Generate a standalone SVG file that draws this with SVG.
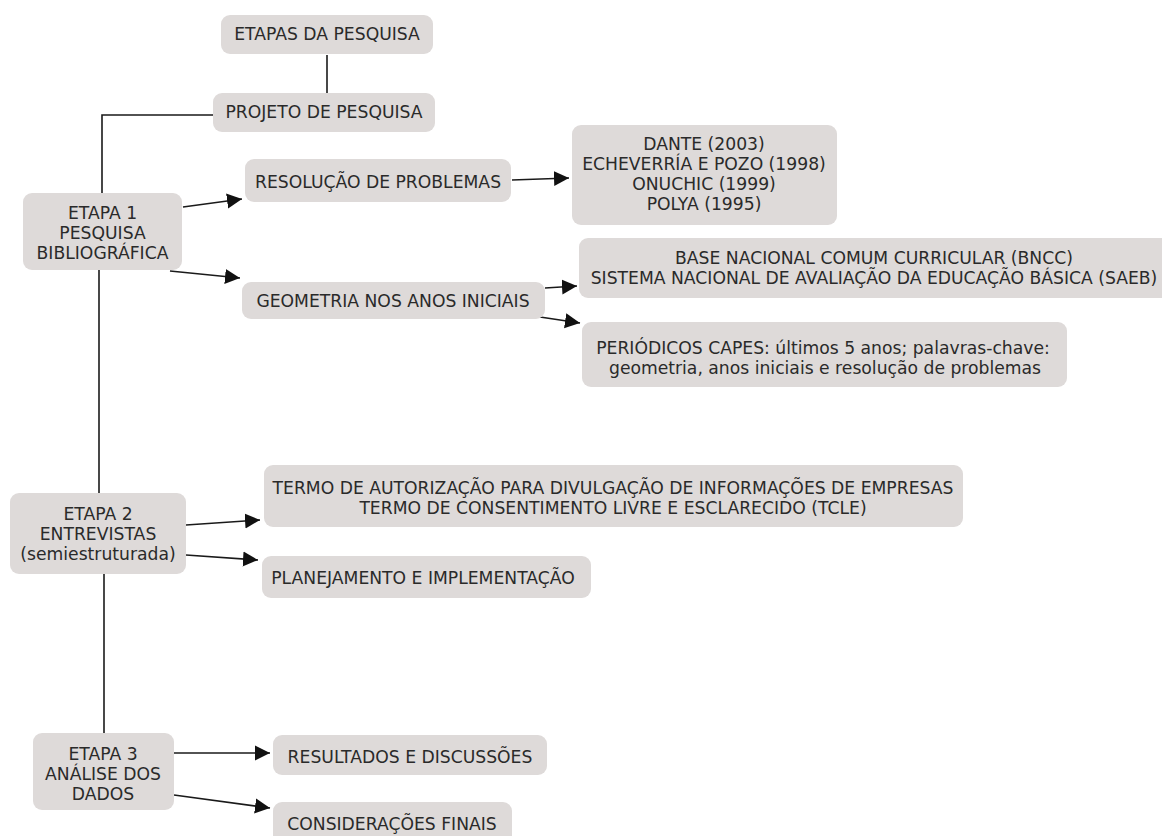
<svg xmlns="http://www.w3.org/2000/svg" width="1162" height="836" viewBox="0 0 1162 836">
<style>
.box{fill:#dedad9;}
.t{font-family:"DejaVu Sans",Verdana,sans-serif;font-size:17.2px;fill:#2a2a2a;text-anchor:middle;}
.ln{stroke:#1a1a1a;stroke-width:1.6;fill:none;}
</style>
<defs>
<marker id="ah" markerUnits="userSpaceOnUse" markerWidth="16" markerHeight="16" refX="15" refY="8" orient="auto">
<path d="M0,0.5 L15,8 L0,15.5 Z" fill="#111"/>
</marker>
</defs>
<rect width="1162" height="836" fill="#fff"/>
<g id="connectors">
<line class="ln" x1="327" y1="55" x2="327" y2="93"/>
<polyline class="ln" points="213,115 102,115 102,193"/>
<line class="ln" x1="99" y1="270" x2="99" y2="493"/>
<line class="ln" x1="104" y1="574" x2="104" y2="733"/>
<line class="ln" x1="183" y1="207" x2="242" y2="199" marker-end="url(#ah)"/>
<line class="ln" x1="170" y1="271" x2="240" y2="278" marker-end="url(#ah)"/>
<line class="ln" x1="512" y1="180" x2="569" y2="178" marker-end="url(#ah)"/>
<line class="ln" x1="545" y1="288" x2="577" y2="286" marker-end="url(#ah)"/>
<line class="ln" x1="540" y1="317" x2="580" y2="323" marker-end="url(#ah)"/>
<line class="ln" x1="186" y1="525" x2="260" y2="520" marker-end="url(#ah)"/>
<line class="ln" x1="186" y1="555" x2="258" y2="560" marker-end="url(#ah)"/>
<line class="ln" x1="174" y1="753" x2="270" y2="753" marker-end="url(#ah)"/>
<line class="ln" x1="174" y1="795" x2="270" y2="808" marker-end="url(#ah)"/>
</g>
<g id="etapas">
<rect class="box" x="221" y="15" width="212" height="39" rx="9"/>
<text class="t" x="327" y="39.5">ETAPAS DA PESQUISA</text>
</g>
<g id="projeto">
<rect class="box" x="213" y="93" width="222" height="39" rx="9"/>
<text class="t" x="324" y="117.5">PROJETO DE PESQUISA</text>
</g>
<g id="resolucao">
<rect class="box" x="245" y="159" width="266" height="43" rx="9"/>
<text class="t" x="378" y="187.5">RESOLUÇÃO DE PROBLEMAS</text>
</g>
<g id="etapa1">
<rect class="box" x="23" y="193" width="159" height="77" rx="9"/>
<text class="t" x="102.5" y="218.5">ETAPA 1</text>
<text class="t" x="102.5" y="238.5">PESQUISA</text>
<text class="t" x="102.5" y="258.5">BIBLIOGRÁFICA</text>
</g>
<g id="geometria">
<rect class="box" x="242" y="282" width="303" height="37" rx="9"/>
<text class="t" x="393" y="306.5">GEOMETRIA NOS ANOS INICIAIS</text>
</g>
<g id="autores">
<rect class="box" x="572" y="125" width="265" height="100" rx="9"/>
<text class="t" x="704" y="149.5">DANTE (2003)</text>
<text class="t" x="704" y="169.5">ECHEVERRÍA E POZO (1998)</text>
<text class="t" x="704" y="189.5">ONUCHIC (1999)</text>
<text class="t" x="704" y="209.5">POLYA (1995)</text>
</g>
<g id="bncc">
<rect class="box" x="579" y="238" width="600" height="60" rx="9"/>
<text class="t" x="874" y="263.5">BASE NACIONAL COMUM CURRICULAR (BNCC)</text>
<text class="t" x="874" y="283.5">SISTEMA NACIONAL DE AVALIAÇÃO DA EDUCAÇÃO BÁSICA (SAEB)</text>
</g>
<g id="periodicos">
<rect class="box" x="582" y="322" width="485" height="65" rx="9"/>
<text class="t" x="823" y="353.5">PERIÓDICOS CAPES: últimos 5 anos; palavras-chave:</text>
<text class="t" x="825" y="373.5">geometria, anos iniciais e resolução de problemas</text>
</g>
<g id="etapa2">
<rect class="box" x="10" y="493" width="176" height="81" rx="9"/>
<text class="t" x="98" y="519.5">ETAPA 2</text>
<text class="t" x="98" y="539.5">ENTREVISTAS</text>
<text class="t" x="98" y="559.5">(semiestruturada)</text>
</g>
<g id="termo">
<rect class="box" x="264" y="465" width="699" height="62" rx="9"/>
<text class="t" x="613" y="493.5">TERMO DE AUTORIZAÇÃO PARA DIVULGAÇÃO DE INFORMAÇÕES DE EMPRESAS</text>
<text class="t" x="613" y="513.5">TERMO DE CONSENTIMENTO LIVRE E ESCLARECIDO (TCLE)</text>
</g>
<g id="planejamento">
<rect class="box" x="262" y="556" width="329" height="42" rx="9"/>
<text class="t" x="423" y="583.5">PLANEJAMENTO E IMPLEMENTAÇÃO</text>
</g>
<g id="etapa3">
<rect class="box" x="33" y="733" width="141" height="77" rx="9"/>
<text class="t" x="103" y="759.5">ETAPA 3</text>
<text class="t" x="103" y="779.5">ANÁLISE DOS</text>
<text class="t" x="103" y="799.5">DADOS</text>
</g>
<g id="resultados">
<rect class="box" x="273" y="735" width="274" height="40" rx="9"/>
<text class="t" x="410" y="762.5">RESULTADOS E DISCUSSÕES</text>
</g>
<g id="consideracoes">
<rect class="box" x="273" y="802" width="239" height="50" rx="9"/>
<text class="t" x="392" y="829.5">CONSIDERAÇÕES FINAIS</text>
</g>
</svg>
